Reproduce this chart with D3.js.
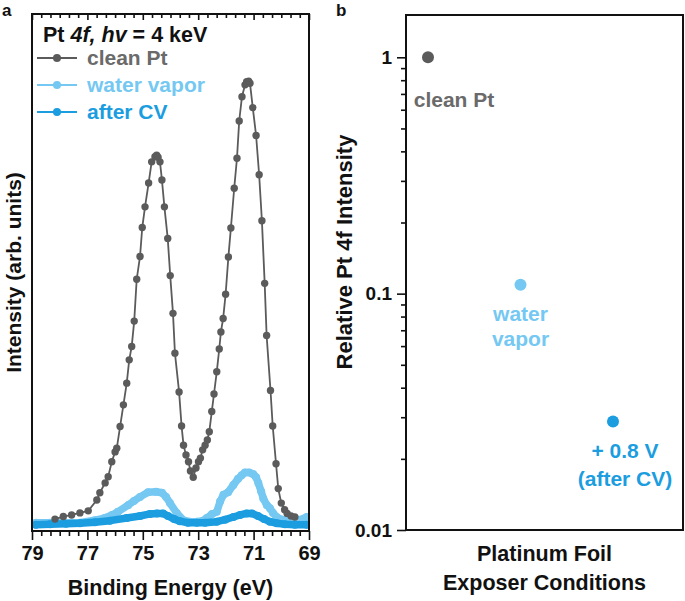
<!DOCTYPE html>
<html><head><meta charset="utf-8">
<script src="https://cdn.jsdelivr.net/npm/d3@7"></script>
<style>
body{margin:0;background:#fff}
svg{display:block}
text{font-family:"Liberation Sans",Arial,Helvetica,sans-serif;font-weight:bold}
</style>
</head><body>
<svg id="chart" width="685" height="601"></svg>
<script>
// ---------------- DATA ----------------
// Panel a: Pt 4f spectra (binding energy eV, intensity arb. units)
const cleanE = [78.17,77.87,77.57,77.27,76.97,76.66,76.55,76.36,76.25,76.12,76.00,75.94,75.82,75.70,75.58,75.49,75.40,75.31,75.22,75.10,75.02,74.92,74.79,74.68,74.56,74.50,74.45,74.38,74.31,74.22,74.10,74.01,73.91,73.84,73.69,73.60,73.53,73.44,73.35,73.28,73.18,73.08,72.99,72.92,72.84,72.75,72.67,72.60,72.51,72.43,72.33,72.24,72.18,72.10,72.01,71.91,71.82,71.70,71.60,71.52,71.42,71.31,71.25,71.18,71.13,71.03,70.91,70.80,70.70,70.60,70.53,70.39,70.31,70.19,70.11,70.00,69.88,69.79,69.65,69.51];
const cleanI = [2.3,2.8,3.1,3.5,3.9,6.0,7.4,9.3,10.5,13.4,15.3,16.0,20.2,24.4,28.6,33.1,35.7,40.6,48.7,53.1,58.7,62.7,67.3,71.4,72.4,72.7,72.3,71.4,67.9,62.7,56.6,49.4,42.1,34.4,26.9,20.3,16.6,14.7,13.4,11.6,10.4,12.2,13.4,14.1,15.7,16.6,17.6,19.2,23.1,26.5,30.8,35.2,38.5,41.1,45.8,53.0,58.6,66.3,72.1,79.3,84.0,86.3,86.9,87.0,86.6,81.9,76.5,68.9,60.0,47.9,37.8,27.2,20.3,13.0,8.2,5.4,4.1,3.4,2.9,2.7];

const waterE = [78.86,78.35,77.77,77.27,76.73,76.38,76.11,75.90,75.53,75.32,75.10,74.81,74.52,74.31,74.16,74.02,73.78,73.54,73.30,73.05,72.83,72.69,72.50,72.33,72.21,72.09,71.92,71.73,71.56,71.43,71.31,71.16,71.01,70.91,70.83,70.73,70.65,70.52,70.41,70.30,70.17,69.97,69.69,69.32,69.08];
const waterI = [1.6,1.6,1.6,1.6,2.1,2.5,3.1,3.7,5.0,5.8,6.6,7.5,7.6,7.4,6.6,5.4,3.5,2.1,1.8,1.8,2.0,2.5,3.3,3.7,5.7,7.0,7.5,8.9,10.1,10.8,11.3,11.3,11.0,10.4,9.3,7.7,6.3,5.0,4.4,3.5,2.7,2.2,2.1,2.2,2.7];

const cvE = [78.86,78.35,77.77,77.27,76.73,76.18,75.58,75.10,74.74,74.49,74.27,74.09,73.87,73.66,73.37,73.05,72.75,72.33,72.03,71.73,71.49,71.25,71.06,70.84,70.62,70.41,70.16,69.87,69.51,69.08];
const cvI = [1.2,1.3,1.4,1.5,1.7,2.0,2.5,2.9,3.3,3.4,3.4,2.9,2.3,1.9,1.6,1.6,1.6,1.8,2.2,2.7,3.1,3.4,3.4,2.9,2.3,1.8,1.5,1.3,1.2,1.2];

const seriesNames = ["clean Pt","water vapor","after CV"];
const seriesColors = ["#5b5b5b","#74c8f2","#1b9de0"];
const legendTextColors = ["#6a6a6a","#74c8f2","#1b9de0"];
const xTickLabels = [79,77,75,73,71,69];

// Panel b: relative Pt 4f intensity
const conditions = ["clean Pt","water vapor","after CV"];
const relIntensity = [1.0, 0.109, 0.0288];
const pointLabels = [["clean Pt"],["water","vapor"],["+ 0.8 V","(after CV)"]];
const pointColors = ["#5b5b5b","#74c8f2","#1b9de0"];
const pointLabelColors = ["#6a6a6a","#74c8f2","#1b9de0"];
const yTickLabelsB = [0.01,0.1,1];

// ---------------- LAYOUT ----------------
const svg = d3.select("#chart");
const A = {l:32, r:309, t:14, b:531};
const B = {l:406, r:683, t:15, b:530};
const labelOffsets = [[26,50,0],[0,36,25],[12,37,28]]; // dx, dy first line, line gap

// ---------------- PANEL A ----------------
const x = d3.scaleLinear().domain([79,69]).range([A.l,A.r]);
const y = d3.scaleLinear().domain([0,100]).range([A.b,A.t]);

const minorTicks = d3.range(0,31).map(i => 69 + i/3).filter(v => !xTickLabels.some(m => Math.abs(m-v)<1e-6));

// bottom axis
svg.append("g").attr("transform",`translate(0,${A.b})`)
  .call(d3.axisBottom(x).tickValues(minorTicks).tickSize(5).tickFormat(""));
const gxMajor = svg.append("g").attr("transform",`translate(0,${A.b})`)
  .call(d3.axisBottom(x).tickValues(xTickLabels).tickSize(9).tickFormat(d3.format("d")));
gxMajor.selectAll("text").attr("y",29).attr("dy",0).style("font-size","20px").attr("fill","#111");
// top mirrored ticks (inward)
svg.append("g").attr("transform",`translate(0,${A.t})`)
  .call(d3.axisTop(x).tickValues(minorTicks).tickSize(-4).tickFormat(""));
svg.append("g").attr("transform",`translate(0,${A.t})`)
  .call(d3.axisTop(x).tickValues(xTickLabels).tickSize(-6).tickFormat(""));
svg.selectAll(".domain").remove();
svg.selectAll(".tick line").attr("stroke","#111").attr("stroke-width",1.6);

// spectra
const line = d3.line().x(d=>x(d[0])).y(d=>y(d[1]));
const waterData = waterE.map((e,i)=>[e,waterI[i]]);
const cvData = cvE.map((e,i)=>[e,cvI[i]]);
const cleanData = cleanE.map((e,i)=>[e,cleanI[i]]);

svg.append("defs").append("clipPath").attr("id","clipA")
  .append("rect").attr("x",A.l).attr("y",A.t).attr("width",A.r-A.l).attr("height",A.b-A.t);
const gA = svg.append("g").attr("clip-path","url(#clipA)");

[[waterData,seriesColors[1]],[cvData,seriesColors[2]]].forEach(([data,col])=>{
  gA.append("path").datum(data).attr("d",line).attr("fill","none")
    .attr("stroke",col).attr("stroke-width",7.5).attr("stroke-linejoin","round").attr("stroke-linecap","round");
  gA.selectAll(null).data(data).enter().append("circle")
    .attr("cx",d=>x(d[0])).attr("cy",d=>y(d[1])).attr("r",4).attr("fill",col);
});
gA.append("path").datum(cleanData).attr("d",line).attr("fill","none")
  .attr("stroke",seriesColors[0]).attr("stroke-width",1.8);
gA.selectAll(null).data(cleanData).enter().append("circle")
  .attr("cx",d=>x(d[0])).attr("cy",d=>y(d[1])).attr("r",3.7).attr("fill",seriesColors[0]);

// frame
svg.append("rect").attr("x",A.l).attr("y",A.t).attr("width",A.r-A.l).attr("height",A.b-A.t)
  .attr("fill","none").attr("stroke","#111").attr("stroke-width",2);

// title
const title = svg.append("text").attr("x",43).attr("y",42).style("font-size","21.5px").attr("fill","#111");
title.append("tspan").text("Pt ");
title.append("tspan").style("font-style","italic").text("4f, hv");
title.append("tspan").text(" = 4 keV");

// legend
const legY = [58,85,112];
seriesNames.forEach((n,i)=>{
  svg.append("line").attr("x1",37).attr("x2",77).attr("y1",legY[i]).attr("y2",legY[i])
    .attr("stroke",seriesColors[i]).attr("stroke-width",2);
  svg.append("circle").attr("cx",57).attr("cy",legY[i]).attr("r",4).attr("fill",seriesColors[i]);
  svg.append("text").attr("x",87).attr("y",legY[i]+7).style("font-size","21px")
    .attr("fill",legendTextColors[i]).text(n);
});

// axis labels
svg.append("text").attr("x",(A.l+A.r)/2).attr("y",595).attr("text-anchor","middle")
  .style("font-size","21.5px").attr("fill","#111").text("Binding Energy (eV)");
svg.append("text").attr("transform",`translate(21,${(A.t+A.b)/2}) rotate(-90)`).attr("text-anchor","middle")
  .style("font-size","21px").attr("fill","#111").text("Intensity (arb. units)");
svg.append("text").attr("x",2).attr("y",16).style("font-size","17px").attr("fill","#111").text("a");

// ---------------- PANEL B ----------------
const yB = d3.scaleLog().domain([0.01,1.51]).range([B.b,B.t]);
const xB = d3.scalePoint().domain(conditions).range([428,613]);

const minorB = [];
[0.01,0.1].forEach(dec=>{ for(let k=2;k<=9;k++) minorB.push(+(k*dec).toFixed(4)); });
svg.append("g").attr("transform",`translate(${B.l},0)`)
  .call(d3.axisLeft(yB).tickValues(minorB).tickSize(5).tickFormat(""));
const gyB = svg.append("g").attr("transform",`translate(${B.l},0)`)
  .call(d3.axisLeft(yB).tickValues(yTickLabelsB).tickSize(9).tickPadding(5).tickFormat(d=>String(d)));
gyB.selectAll("text").style("font-size","19px").attr("fill","#111");
svg.selectAll(".domain").remove();
svg.selectAll(".tick line").attr("stroke","#111").attr("stroke-width",1.6);

svg.append("rect").attr("x",B.l).attr("y",B.t).attr("width",B.r-B.l).attr("height",B.b-B.t)
  .attr("fill","none").attr("stroke","#111").attr("stroke-width",2);

conditions.forEach((c,i)=>{
  const px = xB(c), py = yB(relIntensity[i]);
  svg.append("circle").attr("cx",px).attr("cy",py).attr("r",6).attr("fill",pointColors[i]);
  const [dx,dy,gap] = labelOffsets[i];
  pointLabels[i].forEach((t,j)=>{
    svg.append("text").attr("x",px+dx).attr("y",py+dy+j*gap).attr("text-anchor","middle")
      .style("font-size","21px").attr("fill",pointLabelColors[i]).text(t);
  });
});

svg.append("text").attr("x",(B.l+B.r)/2).attr("y",561).attr("text-anchor","middle")
  .style("font-size","21.5px").attr("fill","#111").text("Platinum Foil");
svg.append("text").attr("x",(B.l+B.r)/2).attr("y",590).attr("text-anchor","middle")
  .style("font-size","21.5px").attr("fill","#111").text("Exposer Conditions");
svg.append("text").attr("transform",`translate(352,252) rotate(-90)`).attr("text-anchor","middle")
  .style("font-size","22px").attr("fill","#111").text("Relative Pt 4f Intensity");
svg.append("text").attr("x",336).attr("y",16).style("font-size","17px").attr("fill","#111").text("b");
</script>
</body></html>
